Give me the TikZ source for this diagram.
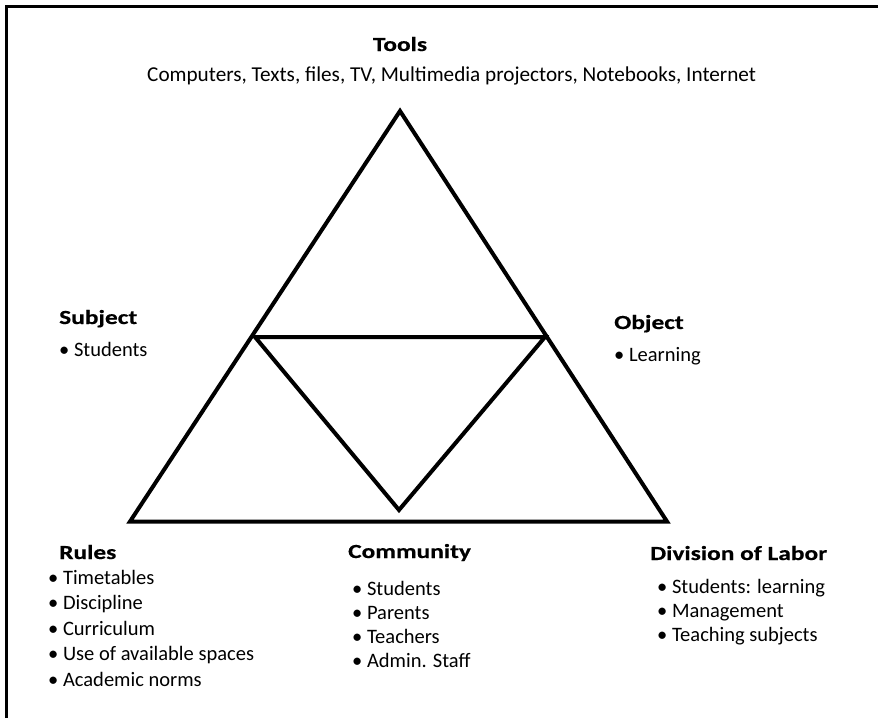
\documentclass[tikz,border=0pt]{standalone}
\usepackage{fontspec}
\setmainfont{Carlito}[BoldFeatures={FakeStretch=1.27, FakeBold=0.5}]
\usetikzlibrary{positioning}
\tikzset{
	head/.style = {font=\fontsize{20}{24}\selectfont\bfseries, inner sep=0pt,
		anchor=base west},% heading of a corner
	item/.style = {font=\fontsize{20.5}{24}\selectfont, inner sep=0pt,
		anchor=base west},% one line of a list
	edge/.style = {line width=4pt, line join=miter}
}

\begin{document}
\begin{tikzpicture}[x=1pt,y=-1pt]
	\useasboundingbox (0,0) rectangle (878,718);
	% frame, open on the right and at the bottom
	\draw[line width=2.5pt] (6.5,718) -- (6.5,6.5) -- (878,6.5);
	% outer triangle
	\coordinate (top) at (400,111);
	\coordinate (left) at (130,521.5);
	\coordinate (right) at (667,521.5);
	\draw[edge] (top) -- (right) -- (left) -- cycle;
	% inner triangle
	\coordinate (in_l) at (255,337);
	\coordinate (in_r) at (545,337);
	\coordinate (in_b) at (399,510);
	\draw[edge] (in_l) -- (in_r) -- (in_b) -- cycle;
	% tools
	\node[head, anchor=base] (tools) at (400,51) {Tools};
	\node[item, font=\fontsize{21.2}{24}\selectfont] (tools_l) at (147,81)
		{Computers, Texts, files, TV, Multimedia projectors, Notebooks, Internet};
	% subject and object
	\node[head] (subject) at (59,324) {Subject};
	\node[item] (subject_l) at (59,356) {\textbullet\ Students};
	\node[head] (object) at (614,329) {Object};
	\node[item] (object_l) at (614,361) {\textbullet\ Learning};
	% rules
	\node[head] (rules) at (59,559) {Rules};
	\foreach \t [count=\i] in {Timetables, Discipline, Curriculum,
		Use of available spaces, Academic norms}
		\node[item] (rules\i) at (48,{584+25.5*(\i-1)}) {\textbullet\ \t};
	% community
	\node[head] (community) at (348,558) {Community};
	\foreach \t [count=\i] in {Students, Parents, Teachers, Admin. Staff}
		\node[item] (comm\i) at (352,{595+24*(\i-1)}) {\textbullet\ \t};
	% division of labor
	\node[head] (division) at (650,560) {Division of Labor};
	\foreach \t [count=\i] in {Students: learning, Management, Teaching subjects}
		\node[item] (div\i) at (657,{593+24*(\i-1)}) {\textbullet\ \t};
\end{tikzpicture}
\end{document}
